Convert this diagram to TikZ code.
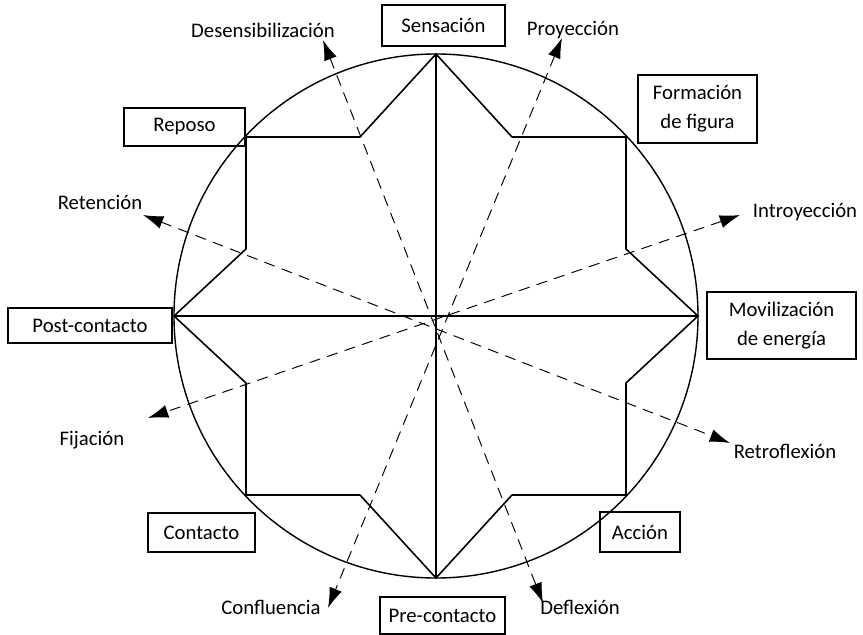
\documentclass[tikz,border=0pt]{standalone}
\usepackage{fontspec}
\setmainfont{Carlito}
\usepackage{tkz-euclide}
\usetikzlibrary{arrows.meta,calc}

\tikzset{
  caja/.style={draw,line width=0.9pt,inner sep=0pt,align=center,
    font=\fontsize{11.8}{16.5}\selectfont},
  etiq/.style={inner sep=0pt,font=\fontsize{11.8}{16.5}\selectfont},
  flecha/.style={line width=0.55pt,dash pattern=on 6pt off 4.5pt,
    {Latex[length=11.5pt,width=7.5pt]}-{Latex[length=11.5pt,width=7.5pt]}}
}

\begin{document}
\begin{tikzpicture}
\useasboundingbox (-8.72,-6.38) rectangle (8.54,6.32);
\tkzSetUpLine[line width=0.9pt,color=black]

\tkzDefPoints{0/0/O,5.24/0/X}

% star
\tkzDefPoints{0/5.24/T,1.52/3.58/a,3.8/3.58/NE,3.8/1.34/b,5.24/0/R,
  3.8/-1.34/c,3.8/-3.58/SE,1.52/-3.58/d,0/-5.24/B,-1.52/-3.58/e,
  -3.8/-3.58/SW,-3.8/-1.34/f,-5.24/0/L,-3.8/1.34/g,-3.8/3.58/NW,-1.52/3.58/h}

% arrow tips
\tkzDefPoints{-2.26/5.52/Des,2.14/-5.74/Def,2.52/5.56/Pro,-2.16/-5.84/Con,
  6.08/2.02/Int,-5.76/-2.04/Fij,-5.86/2.02/Ret,5.88/-2.54/Rfl}

\tkzDrawCircle[line width=0.8pt,color=black](O,X)

\tkzDrawPolygon(T,a,NE,b,R,c,SE,d,B,e,SW,f,L,g,NW,h)
\tkzDrawSegments(T,B L,R)

\tkzDrawSegments[flecha](Des,Def Pro,Con Int,Fij Ret,Rfl)

% boxes
\node[caja,minimum width=2.46cm,minimum height=0.82cm] (sens) at (0.15,5.81) {Sensación};
\node[caja,minimum width=2.38cm,minimum height=1.36cm] (form) at (5.23,4.14) {Formación\\de figura};
\node[caja,minimum width=2.42cm,minimum height=0.76cm] (repo) at (-5.03,3.78) {Reposo};
\node[caja,minimum width=3.28cm,minimum height=0.70cm] (post) at (-6.92,-0.19) {Post-contacto};
\node[caja,minimum width=2.98cm,minimum height=1.34cm] (movi) at (6.91,-0.19) {Movilización\\de energía};
\node[caja,minimum width=2.14cm,minimum height=0.78cm] (cont) at (-4.69,-4.33) {Contacto};
\node[caja,minimum width=1.6cm,minimum height=0.8cm] (acci) at (4.08,-4.32) {Acción};
\node[caja,minimum width=2.5cm,minimum height=0.74cm] (prec) at (0.13,-5.99) {Pre-contacto};

% labels
\node[etiq] (ldes) at (-3.46,5.72) {Desensibilización};
\node[etiq] (lpro) at (2.74,5.72) {Proyección};
\node[etiq] (lret) at (-6.72,2.28) {Retención};
\node[etiq] (lint) at (7.38,2.08) {Introyección};
\node[etiq] (lfij) at (-6.88,-2.48) {Fijación};
\node[etiq] (lrfl) at (6.98,-2.70) {Retroflexión};
\node[etiq] (lcon) at (-3.30,-5.82) {Confluencia};
\node[etiq] (ldef) at (2.88,-5.82) {Deflexión};

\end{tikzpicture}
\end{document}
